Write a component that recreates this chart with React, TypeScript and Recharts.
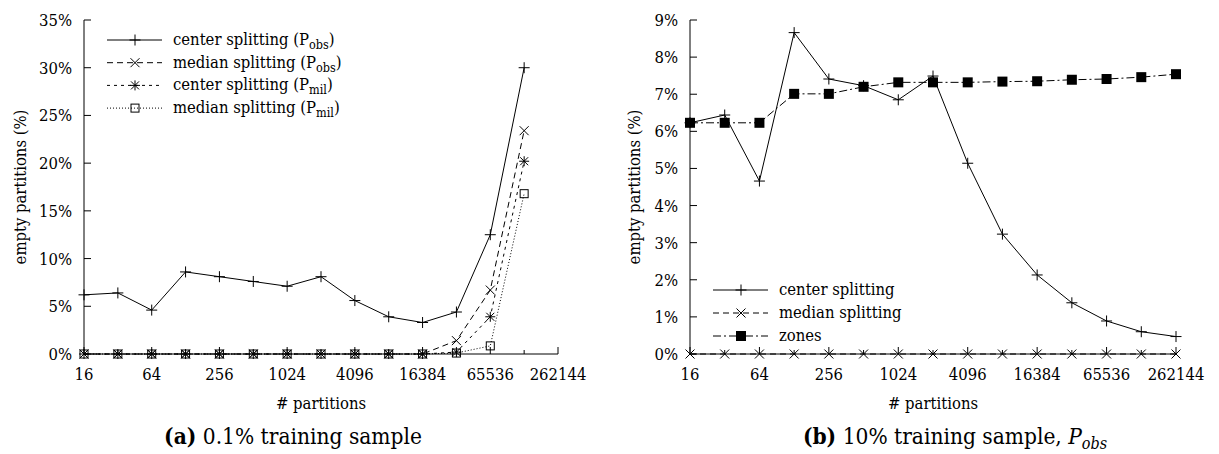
import React from 'react';
import { LineChart, Line, XAxis, YAxis } from 'recharts';

const FONT = "'DejaVu Serif Condensed', 'DejaVu Serif', serif";
const FS = 16.5; // tick / label size
const CAP = 22.5; // caption size

// x values: number of partitions (powers of 2)
const partitions = [16, 32, 64, 128, 256, 512, 1024, 2048, 4096, 8192, 16384, 32768, 65536, 131072, 262144];

// (a) 0.1% training sample -- empty partitions in %
const centerObsA = [6.2, 6.4, 4.6, 8.6, 8.1, 7.6, 7.1, 8.1, 5.6, 3.9, 3.3, 4.4, 12.5, 30.0];
const medianObsA = [0, 0, 0, 0, 0, 0, 0, 0, 0, 0, 0, 1.4, 6.7, 23.4];
const centerMilA = [0, 0, 0, 0, 0, 0, 0, 0, 0, 0, 0, 0.2, 3.9, 20.2];
const medianMilA = [0, 0, 0, 0, 0, 0, 0, 0, 0, 0, 0, 0.1, 0.85, 16.8];
const yTicksA = [0, 5, 10, 15, 20, 25, 30, 35];

// (b) 10% training sample, P_obs
const centerB = [6.23, 6.44, 4.66, 8.66, 7.41, 7.23, 6.85, 7.49, 5.14, 3.23, 2.13, 1.38, 0.89, 0.6, 0.47];
const medianB = [0, 0, 0, 0, 0, 0, 0, 0, 0, 0, 0, 0, 0, 0, 0];
const zonesB = [6.23, 6.23, 6.23, 7.01, 7.01, 7.2, 7.32, 7.32, 7.32, 7.34, 7.35, 7.39, 7.41, 7.46, 7.54];
const yTicksB = [0, 1, 2, 3, 4, 5, 6, 7, 8, 9];

const dataA = partitions.slice(0, centerObsA.length).map((p, i) => ({
  p,
  centerObs: centerObsA[i],
  medianObs: medianObsA[i],
  centerMil: centerMilA[i],
  medianMil: medianMilA[i],
}));

const dataB = partitions.map((p, i) => ({
  p,
  center: centerB[i],
  median: medianB[i],
  zones: zonesB[i],
}));

type Marker = 'plus' | 'cross' | 'star' | 'box' | 'fbox';

function drawMarker(kind: Marker, cx: number, cy: number) {
  switch (kind) {
    case 'plus':
      return <path d={`M${cx - 5.5},${cy}h11M${cx},${cy - 5.5}v11`} stroke="#000" fill="none" />;
    case 'cross':
      return <path d={`M${cx - 4.5},${cy - 4.5}l9,9M${cx + 4.5},${cy - 4.5}l-9,9`} stroke="#000" fill="none" />;
    case 'star':
      return (
        <path
          d={`M${cx - 5},${cy}h10M${cx},${cy - 5}v10M${cx - 4},${cy - 4}l8,8M${cx + 4},${cy - 4}l-8,8`}
          stroke="#000"
          fill="none"
        />
      );
    case 'box':
      return <rect x={cx - 4} y={cy - 4} width={8} height={8} stroke="#000" fill="none" />;
    case 'fbox':
      return <rect x={cx - 5} y={cy - 5} width={10} height={10} fill="#000" />;
  }
}

const dot = (kind: Marker) => (props: any) => {
  const { cx, cy, index } = props;
  if (cx == null || cy == null) return <g key={index} />;
  return <g key={index}>{drawMarker(kind, cx, cy)}</g>;
};

const txt = { fontFamily: FONT, fontStretch: 'condensed' as const };

const YTick = (props: any) => {
  const { x, y, payload } = props;
  return (
    <g>
      <line x1={x + 12} x2={x + 19} y1={y} y2={y} stroke="#000" />
      <text x={x} y={y} dy={6} textAnchor="end" fontSize={FS} style={txt} fill="#000">
        {payload.value}%
      </text>
    </g>
  );
};

const XTick = (props: any) => {
  const { x, y, payload } = props;
  const major = Math.round(Math.log2(payload.value)) % 2 === 0;
  return (
    <g>
      <line x1={x} x2={x} y1={y - 26} y2={y - 26 - (major ? 7 : 4)} stroke="#000" />
      {major && (
        <text x={x} y={y} textAnchor="middle" fontSize={FS} style={txt} fill="#000">
          {payload.value}
        </text>
      )}
    </g>
  );
};

const legendA = [
  { name: 'center splitting (P', sub: 'obs', dash: undefined, marker: 'plus' as Marker },
  { name: 'median splitting (P', sub: 'obs', dash: '6 4', marker: 'cross' as Marker },
  { name: 'center splitting (P', sub: 'mil', dash: '3 4', marker: 'star' as Marker },
  { name: 'median splitting (P', sub: 'mil', dash: '1 2', marker: 'box' as Marker },
];
const legendB = [
  { name: 'center splitting', sub: '', dash: undefined, marker: 'plus' as Marker },
  { name: 'median splitting', sub: '', dash: '6 4', marker: 'cross' as Marker },
  { name: 'zones', sub: '', dash: '8 3 2 3', marker: 'fbox' as Marker },
];

function LegendBlock({ items, x, y, step }: { items: typeof legendA; x: number; y: number; step: number }) {
  return (
    <g>
      {items.map((it, i) => {
        const cy = y + i * step;
        return (
          <g key={i}>
            <line x1={x} x2={x + 55} y1={cy} y2={cy} stroke="#000" strokeDasharray={it.dash} />
            {drawMarker(it.marker, x + 28, cy)}
            <text x={x + 66} y={cy} dy={5} fontSize={FS} style={txt} fill="#000">
              {it.name}
              {it.sub && (
                <>
                  <tspan fontSize={12.5} dy={4}>
                    {it.sub}
                  </tspan>
                  <tspan dy={-4}>)</tspan>
                </>
              )}
            </text>
          </g>
        );
      })}
    </g>
  );
}

export default function App() {
  return (
    <div style={{ position: 'absolute', left: 0, top: 0, width: 1219, height: 454, background: '#fff', fontFamily: FONT }}>
      <div style={{ position: 'absolute', left: 0, top: 0 }}>
        <LineChart width={610} height={454} data={dataA} margin={{ top: 20, right: 52, bottom: 70, left: 24 }}>
          <XAxis
            dataKey="p"
            type="number"
            scale="log"
            domain={[16, 262144]}
            ticks={partitions}
            interval={0}
            height={30}
            tickSize={0}
            tickMargin={26}
            tickLine={false}
            stroke="#000"
            tick={<XTick />}
          />
          <YAxis
            type="number"
            domain={[0, 35]}
            ticks={yTicksA}
            interval={0}
            width={60}
            tickSize={0}
            tickMargin={12}
            tickLine={false}
            stroke="#000"
            tick={<YTick />}
          />
          <Line dataKey="centerObs" stroke="#000" strokeWidth={1} dot={dot('plus')} isAnimationActive={false} />
          <Line dataKey="medianObs" stroke="#000" strokeWidth={1} strokeDasharray="6 4" dot={dot('cross')} isAnimationActive={false} />
          <Line dataKey="centerMil" stroke="#000" strokeWidth={1} strokeDasharray="3 4" dot={dot('star')} isAnimationActive={false} />
          <Line dataKey="medianMil" stroke="#000" strokeWidth={1} strokeDasharray="1 2" dot={dot('box')} isAnimationActive={false} />
        </LineChart>
      </div>
      <div style={{ position: 'absolute', left: 610, top: 0 }}>
        <LineChart width={609} height={454} data={dataB} margin={{ top: 20, right: 43, bottom: 70, left: 20 }}>
          <XAxis
            dataKey="p"
            type="number"
            scale="log"
            domain={[16, 262144]}
            ticks={partitions}
            interval={0}
            height={30}
            tickSize={0}
            tickMargin={26}
            tickLine={false}
            stroke="#000"
            tick={<XTick />}
          />
          <YAxis
            type="number"
            domain={[0, 9]}
            ticks={yTicksB}
            interval={0}
            width={60}
            tickSize={0}
            tickMargin={12}
            tickLine={false}
            stroke="#000"
            tick={<YTick />}
          />
          <Line dataKey="center" stroke="#000" strokeWidth={1} dot={dot('plus')} isAnimationActive={false} />
          <Line dataKey="median" stroke="#000" strokeWidth={1} strokeDasharray="6 4" dot={dot('cross')} isAnimationActive={false} />
          <Line dataKey="zones" stroke="#000" strokeWidth={1} strokeDasharray="8 3 2 3" dot={dot('fbox')} isAnimationActive={false} />
        </LineChart>
      </div>
      <svg
        width={1219}
        height={454}
        style={{ position: 'absolute', left: 0, top: 0, pointerEvents: 'none', fontFamily: FONT }}
      >
        <LegendBlock items={legendA} x={107} y={40} step={22.7} />
        <LegendBlock items={legendB} x={713} y={290} step={23} />
        <text transform="translate(20,187) rotate(-90)" textAnchor="middle" dy={6} fontSize={FS} style={txt} fill="#000">
          empty partitions (%)
        </text>
        <text transform="translate(634,187) rotate(-90)" textAnchor="middle" dy={6} fontSize={FS} style={txt} fill="#000">
          empty partitions (%)
        </text>
        <text x={321} y={409} textAnchor="middle" fontSize={FS} style={txt} fill="#000">
          # partitions
        </text>
        <text x={933} y={409} textAnchor="middle" fontSize={FS} style={txt} fill="#000">
          # partitions
        </text>
        <text x={293} y={444} textAnchor="middle" fontSize={CAP} style={txt} fill="#000">
          <tspan fontWeight="bold">(a)</tspan> 0.1% training sample
        </text>
        <text x={955} y={444} textAnchor="middle" fontSize={CAP} style={txt} fill="#000">
          <tspan fontWeight="bold">(b)</tspan> 10% training sample, <tspan fontStyle="italic">P</tspan>
          <tspan fontStyle="italic" fontSize={16} dy={5}>
            obs
          </tspan>
        </text>
      </svg>
    </div>
  );
}
